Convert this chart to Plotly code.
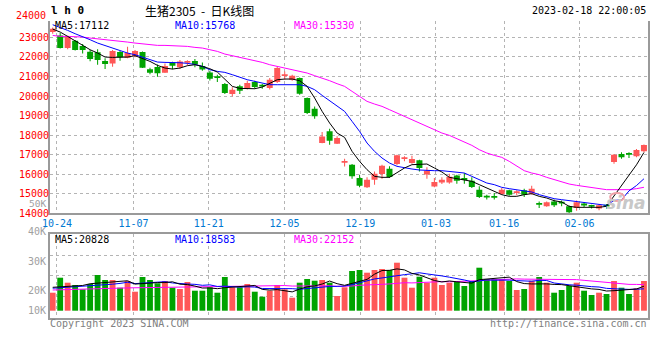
import plotly.graph_objects as go

# ---------------- data ----------------
DATES = ["10-21",
         "10-24", "10-25", "10-26", "10-27", "10-28",
         "10-31", "11-01", "11-02", "11-03", "11-04",
         "11-07", "11-08", "11-09", "11-10", "11-11",
         "11-14", "11-15", "11-16", "11-17", "11-18",
         "11-21", "11-22", "11-23", "11-24", "11-25",
         "11-28", "11-29", "11-30", "12-01", "12-02",
         "12-05", "12-06", "12-07", "12-08", "12-09",
         "12-12", "12-13", "12-14", "12-15", "12-16",
         "12-19", "12-20", "12-21", "12-22", "12-23",
         "12-26", "12-27", "12-28", "12-29", "12-30",
         "01-03", "01-04", "01-05", "01-06",
         "01-09", "01-10", "01-11", "01-12", "01-13",
         "01-16", "01-17", "01-18", "01-19", "01-20",
         "01-30", "01-31", "02-01", "02-02", "02-03",
         "02-06", "02-07", "02-08", "02-09", "02-10",
         "02-13", "02-14", "02-15", "02-16", "02-17"]

OPEN = [23273, 23100, 22455, 22830, 22560, 22270, 22235, 21790, 21670, 22250,
        21960, 22050, 22250, 21365, 21485, 21195, 21720, 21470, 21700, 21790,
        21540, 21210, 20940, 20615, 20105, 20495, 20395, 20715, 20510, 20410,
        20720, 21020, 20835, 20920, 19900, 19350, 17600, 18195, 17565, 16590,
        16490, 15805, 15330, 15720, 16010, 16285, 16520, 16780, 16575, 16710,
        15980, 15365, 15570, 15570, 15940, 15730, 15670, 15210, 14830, 14850,
        14990, 15175, 15040, 15175, 15005, 14460, 14360, 14610, 14520, 14355,
        14270, 14500, 14350, 14240, 14370, 16625, 17035, 17010, 16915, 17170]
CLOSE = [23443, 22455, 23050, 22360, 22360, 21895, 21840, 21640, 22300, 21980,
         22200, 22300, 21450, 21195, 21160, 21535, 21550, 21770, 21720, 21620,
         21360, 20890, 20920, 20155, 20325, 20275, 20665, 20460, 20490, 20835,
         21430, 21040, 21040, 20120, 19130, 18960, 17935, 17715, 17850, 16610,
         15890, 15415, 15720, 16030, 16435, 15855, 16965, 16800, 16780, 16320,
         16180, 15600, 15720, 15875, 15670, 15710, 15345, 14835, 14810, 14800,
         15210, 14955, 15060, 14955, 15260, 14440, 14560, 14410, 14500, 14050,
         14560, 14400, 14330, 14410, 14350, 17000, 16865, 16990, 17240, 17495]
HIGH = [23510, 23220, 23080, 22870, 22660, 22350, 22390, 21930, 22350, 22300,
        22520, 22350, 22280, 21450, 21620, 21670, 21760, 21840, 21830, 21890,
        21720, 21300, 21090, 20665, 20445, 20580, 20785, 20785, 20615, 20920,
        21520, 21260, 21090, 20955, 19930, 19470, 18160, 18330, 17940, 16795,
        16520, 15975, 15840, 16145, 16490, 16405, 17000, 16915, 16950, 16745,
        16350, 15805, 15840, 16030, 15975, 16060, 15840, 15380, 14950, 15040,
        15300, 15200, 15180, 15260, 15415, 14610, 14600, 14700, 14650, 14400,
        14650, 14580, 14440, 14475, 14480, 17035, 17120, 17120, 17290, 17520]
LOW = [23190, 22430, 22400, 22330, 22180, 21775, 21600, 21380, 21500, 21810,
       21930, 21990, 21430, 21110, 20990, 21190, 21365, 21390, 21560, 21470,
       21290, 20790, 20720, 20100, 19985, 20100, 20340, 20375, 20375, 20340,
       20665, 20835, 20785, 20070, 19080, 18840, 17590, 17510, 17545, 16400,
       15770, 15330, 15295, 15465, 15770, 15805, 16455, 16660, 16540, 16145,
       15770, 15330, 15500, 15515, 15515, 15515, 15295, 14780, 14700, 14700,
       14950, 14900, 14930, 14840, 14955, 14270, 14340, 14325, 14360, 14010,
       14135, 14305, 14240, 14155, 14230, 16540, 16795, 16830, 16865, 17120]

MA5 = [23427, 23274, 23052, 22830, 22626, 22370, 22200, 21995, 21978, 21978,
       21995, 22063, 21910, 21773, 21569, 21433, 21381, 21433, 21552, 21603,
       21518, 21398, 21228, 20836, 20495, 20392, 20375, 20375, 20461, 20631,
       20836, 20870, 20870, 20785, 20495, 19898, 19216, 18619, 18108, 17886,
       17170, 16659, 16232, 15891, 15840, 15840, 16062, 16318, 16488, 16488,
       16522, 16318, 16113, 15840, 15772, 15721, 15636, 15465, 15295, 15124,
       14954, 14868, 14868, 14954, 15005, 14868, 14783, 14647, 14578, 14357,
       14306, 14306, 14306, 14306, 14357, 14880, 15380, 15900, 16480, 17112]
MA10 = [23649, 23513, 23359, 23189, 23052, 22882, 22711, 22575, 22456, 22319,
        22200, 22115, 21978, 21859, 21739, 21722, 21722, 21705, 21671, 21620,
        21518, 21347, 21262, 21211, 21092, 20955, 20836, 20751, 20665, 20580,
        20580, 20580, 20580, 20580, 20495, 20324, 20034, 19762, 19472, 19216,
        18705, 18193, 17596, 17170, 16829, 16573, 16403, 16318, 16266, 16215,
        16181, 16181, 16181, 16147, 16113, 16062, 15891, 15721, 15550, 15465,
        15329, 15260, 15209, 15158, 15090, 14954, 14834, 14749, 14698, 14647,
        14612, 14578, 14527, 14442, 14408, 14657, 14690, 15146, 15420, 15768]
MA30 = [23103, 23052, 23052, 23052, 23018, 22967, 22933, 22882, 22830, 22796,
        22762, 22711, 22660, 22626, 22592, 22592, 22575, 22575, 22541, 22490,
        22456, 22370, 22285, 22149, 22063, 21978, 21910, 21808, 21722, 21603,
        21518, 21433, 21347, 21296, 21177, 21041, 20921, 20785, 20631, 20495,
        20239, 19983, 19728, 19591, 19472, 19301, 19131, 18994, 18790, 18619,
        18449, 18278, 18108, 17988, 17818, 17647, 17477, 17255, 17085, 16965,
        16863, 16659, 16403, 16181, 16062, 15977, 15840, 15721, 15601, 15499,
        15431, 15380, 15329, 15260, 15209, 15209, 15209, 15209, 15260, 15330]

VOLUME = [15300, 28050, 23800, 21850, 18190, 22700, 30350, 26100, 26100, 19550,
          25250, 16150, 28650, 26100, 23290, 25250, 19550, 18450, 24400, 17000,
          17000, 19890, 15300, 28650, 19890, 19890, 22700, 16150, 11900, 17000,
          21850, 18190, 11050, 23800, 26950, 25500, 26100, 23800, 12500, 19890,
          33750, 34600, 32300, 34600, 35450, 34600, 40800, 28050, 19550, 28900,
          23800, 28050, 21850, 23800, 25250, 21000, 25250, 36550, 26950, 26950,
          26950, 25250, 17600, 18450, 25500, 28650, 23800, 15300, 17600, 21000,
          23800, 17000, 13350, 15300, 14200, 25250, 19550, 14200, 19040, 25250]
VMA5 = [19890, 20400, 21000, 21000, 21440, 22920, 23380, 23830, 24680, 24960,
        25470, 22630, 23140, 23140, 23890, 23890, 24570, 22530, 22190, 20930,
        19280, 19350, 18720, 19570, 20150, 20720, 21280, 21450, 18110, 17530,
        17920, 17020, 16000, 18380, 20370, 21100, 22680, 25230, 22970, 21560,
        23210, 24910, 26610, 31030, 34140, 34310, 35550, 34700, 31690, 30380,
        28220, 25670, 24430, 25280, 24550, 23990, 23430, 26370, 27000, 27340,
        28530, 28530, 24740, 23040, 22750, 23090, 22800, 22340, 22170, 21270,
        20300, 18940, 18550, 18090, 16730, 17020, 17530, 17700, 18450, 20828]
VMA10 = [19130, 19550, 19980, 19980, 20400, 20830, 21680, 22100, 22530, 23200,
         24190, 23000, 23490, 23910, 24420, 24680, 23600, 22830, 22660, 22410,
         21580, 21960, 20620, 20880, 20540, 20000, 20320, 20090, 18840, 18840,
         19320, 19150, 18730, 18240, 18950, 19510, 19850, 20610, 20670, 20960,
         22150, 23790, 25920, 27000, 27850, 28760, 30230, 30650, 31360, 32260,
         31260, 30610, 29560, 28480, 27460, 26100, 24550, 25400, 26140, 25940,
         26260, 25980, 25550, 25020, 25040, 25810, 25660, 23540, 22600, 22010,
         21690, 20870, 20440, 20130, 19000, 18660, 18230, 18120, 18270, 18583]
VMA30 = [17600, 17850, 18110, 18280, 18450, 18700, 18870, 19040, 19130, 19210,
         19380, 19550, 19640, 19720, 19810, 19890, 19980, 20060, 20150, 20230,
         20320, 20400, 20490, 20570, 20740, 20910, 21080, 21250, 21340, 21480,
         21700, 21370, 20940, 21010, 21300, 21390, 21250, 21170, 20720, 20730,
         21020, 21630, 21750, 22040, 22440, 22750, 23460, 23780, 23620, 24020,
         24240, 24510, 24740, 24570, 24750, 24790, 24870, 25550, 26050, 26380,
         26550, 26790, 27010, 26830, 26780, 26890, 26810, 26530, 26700, 26730,
         26400, 25810, 25190, 24540, 23830, 23520, 22810, 22360, 22340, 22152]

TICK_LABELS = ["10-24", "11-07", "11-21", "12-05", "12-19", "01-03", "01-16", "02-06"]
PRICE_TICKS = [14000, 15000, 16000, 17000, 18000, 19000, 20000, 21000, 22000, 23000]

# ---------------- styling / layout helpers ----------------
RED = "#ff5757"
GREEN = "#00a300"
GRID = "#b4b4b4"
FRAME = "#9a9a9a"
MONO = "DejaVu Sans Mono"
W, H = 660, 360
ML, MR, MT, MB = 50, 10, 21, 42
PW, PH = W - ML - MR, H - MT - MB


def px(x):
    return (x - ML) / PW


def py(y):
    return (H - MB - y) / PH


idx = list(range(len(DATES)))
up = [c >= o for o, c in zip(OPEN, CLOSE)]
colors = [RED if u else GREEN for u in up]
body_base = [min(o, c) for o, c in zip(OPEN, CLOSE)]
body_len = [max(abs(c - o), 90) for o, c in zip(OPEN, CLOSE)]
wick_len = [h - l for h, l in zip(HIGH, LOW)]

# gridline/tick positions of the date labels (slot coordinates)
TICK_X = [0.57, 10.79, 20.85, 30.97, 41.09, 51.21, 60.32, 70.39]
XR = [-0.36, 79.54]

fig = go.Figure()

# wicks
fig.add_trace(go.Bar(x=idx, y=wick_len, base=LOW, width=0.14,
                     marker=dict(color=colors, line=dict(width=0)),
                     xaxis="x", yaxis="y"))
# bodies
fig.add_trace(go.Bar(x=idx, y=body_len, base=body_base, width=0.8,
                     marker=dict(color=colors, line=dict(width=0)),
                     xaxis="x", yaxis="y"))
# price moving averages
for vals, col in ((MA30, "#ff00ff"), (MA10, "#0000ff"), (MA5, "#000000")):
    fig.add_trace(go.Scatter(x=idx, y=vals, mode="lines",
                             line=dict(color=col, width=1),
                             xaxis="x", yaxis="y"))

# volume bars
fig.add_trace(go.Bar(x=idx, y=VOLUME, width=0.78,
                     marker=dict(color=colors, line=dict(width=0)),
                     xaxis="x2", yaxis="y2"))
for vals, col in ((VMA30, "#ff00ff"), (VMA10, "#0000ff"), (VMA5, "#000000")):
    fig.add_trace(go.Scatter(x=idx, y=vals, mode="lines",
                             line=dict(color=col, width=1),
                             xaxis="x2", yaxis="y2"))

# volume axis: baseline at pixel 310.7, 850 lots per pixel
VPP = 850.0
v_lo = (310.7 - 318.0) * VPP
v_hi = (310.7 - 234.3) * VPP
v_grid = [(310.7 - y) * VPP for y in (255.1, 275.9, 296.7)]

fig.update_layout(
    width=W, height=H,
    margin=dict(l=ML, r=MR, t=MT, b=MB),
    paper_bgcolor="white", plot_bgcolor="white",
    showlegend=False, barmode="overlay", hovermode=False,
    xaxis=dict(domain=[0, 1], range=XR, anchor="y",
               tickvals=TICK_X, ticktext=TICK_LABELS, ticks="",
               tickfont=dict(family=MONO, size=10, color="#0078d2"),
               showgrid=True, gridcolor=GRID, griddash="dot", gridwidth=1,
               showline=True, linecolor=FRAME, linewidth=2, zeroline=False),
    yaxis=dict(domain=[py(213.3), 1], range=[14000, 23840], anchor="x",
               tickvals=PRICE_TICKS + [23830],
               ticktext=[str(v) for v in PRICE_TICKS] + [""], ticks="",
               ticklabelstandoff=-3,
               tickfont=dict(family=MONO, size=10, color="#ff0000"),
               showgrid=True, gridcolor=GRID, griddash="dot", gridwidth=1,
               showline=True, mirror=True, linecolor=FRAME, linewidth=2,
               zeroline=False),
    xaxis2=dict(domain=[0, 1], range=XR, anchor="y2",
                tickvals=TICK_X, showticklabels=False, ticks="",
                showgrid=True, gridcolor=GRID, griddash="dot", gridwidth=1,
                showline=True, mirror=True, linecolor=FRAME, linewidth=2,
                zeroline=False),
    yaxis2=dict(domain=[0, py(234.3)], range=[v_lo, v_hi], anchor="x2",
                tickvals=v_grid, showticklabels=False, ticks="",
                showgrid=True, gridcolor=GRID, griddash="dot", gridwidth=1,
                showline=True, mirror=True, linecolor=FRAME, linewidth=2,
                zeroline=False),
)

ann = []


def text(x, y, s, color="#000000", size=10, family=MONO, xanchor="left", **kw):
    ann.append(dict(x=px(x), y=py(y), xref="paper", yref="paper", text=s,
                    showarrow=False, xanchor=xanchor, yanchor="middle",
                    borderpad=0,
                    font=dict(family=family, size=size, color=color), **kw))


# header
text(50, 10.5, "<b>l h 0</b>", size=11)
text(200, 10.5, "生猪2305 &nbsp;- &nbsp;日K线图", size=12, family="Noto Sans CJK SC",
     xanchor="center")
text(649, 10.5, "2023-02-18 22:00:05", xanchor="right")
# price panel labels
text(47, 15.5, "24000", color="#ff0000", xanchor="right")
text(47, 203, "50K", color="#a0a0a0", xanchor="right", size=9.5)
text(54, 25, "MA5:17112")
text(174, 25, "MA10:15768", color="#0000ff")
text(294, 25, "MA30:15330", color="#ff00ff")
# volume panel labels
text(47, 231, "40K", color="#a0a0a0", xanchor="right")
text(47, 261, "30K", color="#a0a0a0", xanchor="right")
text(47, 290, "20K", color="#a0a0a0", xanchor="right")
text(47, 310, "10K", color="#a0a0a0", xanchor="right")
text(54, 239, "MA5:20828")
text(174, 239, "MA10:18583", color="#0000ff")
text(294, 239, "MA30:22152", color="#ff00ff")
# footer
text(49, 323.5, "Copyright 2023 SINA.COM", color="#808080")
text(650, 323.5, "http://finance.sina.com.cn", color="#808080", xanchor="right")
# watermark
text(628, 203, "<b><i>sina</i></b>", color="#c8c8c8", size=17,
     family="DejaVu Sans", xanchor="center")

fig.update_layout(annotations=ann)
fig.add_shape(type="circle", xref="paper", yref="paper",
              x0=px(612), x1=px(626), y0=py(201), y1=py(193),
              line=dict(color="#f0a0a8", width=2))

fig.write_html("out.html",
               config={"displayModeBar": False, "staticPlot": True},
               post_script="document.body.style.margin='0px';"
                           "document.body.style.overflow='hidden';")
